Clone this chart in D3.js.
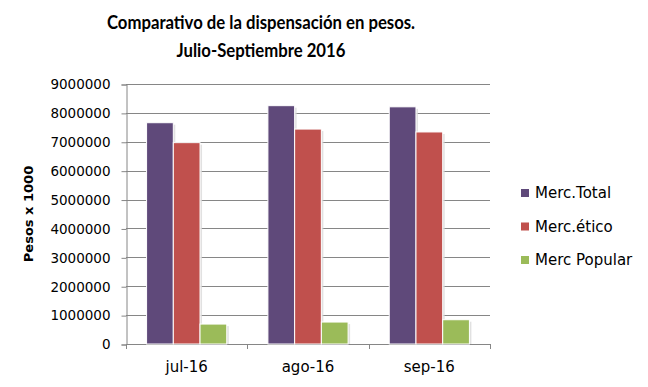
<!DOCTYPE html>
<html>
<head>
<meta charset="utf-8">
<script src="https://cdn.jsdelivr.net/npm/d3@7"></script>
<style>
  body { margin: 0; background: #fff; }
  svg { display: block; }
</style>
</head>
<body>
<svg id="chart" width="648" height="387"></svg>
<script>
// data
var months = ["jul-16", "ago-16", "sep-16"];
var seriesNames = ["Merc.Total", "Merc.ético", "Merc Popular"];
var mercTotal = [7660000, 8250000, 8210000];
var mercEtico = [6970000, 7440000, 7340000];
var mercPopular = [690000, 760000, 840000];
var yTicks = [0, 1000000, 2000000, 3000000, 4000000, 5000000, 6000000, 7000000, 8000000, 9000000];
var colors = ["#5F497A", "#C0504D", "#9BBB59"];

var svg = d3.select("#chart");
var plotLeft = 126, plotRight = 490, plotTop = 84, plotBottom = 344;
var gridColor = "#868686";

var rows = months.map(function(m, i) {
    return { month: m, values: [mercTotal[i], mercEtico[i], mercPopular[i]] };
});

var x0 = d3.scaleBand().domain(months).range([plotLeft, plotRight]).padding(0);
var x1 = d3.scaleBand().domain(seriesNames).range([0, x0.bandwidth()]).paddingInner(0).paddingOuter(0.77);
var y = d3.scaleLinear().domain([0, 9000000]).range([plotBottom, plotTop]);

//Title, squeezed a little sideways to get the narrow bold look
var title = svg.append("text")
    .attr("transform", "translate(261,0) scale(0.88,1)")
    .attr("text-anchor", "middle")
    .style("font-family", "Lato, sans-serif")
    .style("font-weight", "bold")
    .style("font-size", "19px")
    .attr("fill", "#000");
title.append("tspan").attr("x", 0).attr("y", 29).text("Comparativo de la dispensación en pesos.");
title.append("tspan").attr("x", 0).attr("y", 57).text("Julio-Septiembre 2016");

//Gridlines
svg.append("g")
    .selectAll("line")
    .data(yTicks.filter(function(d) { return d > 0; }))
    .enter()
    .append("line")
    .attr("x1", plotLeft).attr("x2", plotRight)
    .attr("y1", function(d) { return Math.round(y(d)) + 0.5; })
    .attr("y2", function(d) { return Math.round(y(d)) + 0.5; })
    .attr("stroke", gridColor)
    .attr("stroke-width", 1);

//Y axis
var yAxis = svg.append("g")
    .attr("transform", "translate(" + (plotLeft + 0.5) + ",0.5)")
    .call(d3.axisLeft(y).tickValues(yTicks).tickFormat(d3.format("d")).tickSize(5).tickPadding(11));
yAxis.select(".domain").attr("stroke", gridColor);
yAxis.selectAll(".tick line").attr("stroke", gridColor);
yAxis.selectAll(".tick text")
    .style("font-family", "'DejaVu Sans', sans-serif")
    .style("font-size", "13.5px")
    .attr("fill", "#000");

//X axis
var xAxis = svg.append("g")
    .attr("transform", "translate(0," + (plotBottom + 0.5) + ")")
    .call(d3.axisBottom(x0).tickSize(0).tickPadding(17));
xAxis.select(".domain").attr("stroke", gridColor).attr("d", "M" + plotLeft + ",0H" + plotRight);
xAxis.selectAll(".tick text")
    .style("font-family", "'DejaVu Sans', sans-serif")
    .style("font-size", "15px")
    .attr("fill", "#000");

//Category separator ticks
var sepTicks = [plotLeft].concat(months.map(function(m) { return x0(m) + x0.bandwidth(); }));
svg.append("g")
    .selectAll("line")
    .data(sepTicks)
    .enter()
    .append("line")
    .attr("x1", function(d) { return Math.round(d) + 0.5; })
    .attr("x2", function(d) { return Math.round(d) + 0.5; })
    .attr("y1", plotBottom).attr("y2", plotBottom + 5)
    .attr("stroke", gridColor);

//Bars
var groups = svg.append("g")
    .selectAll("g")
    .data(rows)
    .enter()
    .append("g")
    .attr("transform", function(d) { return "translate(" + x0(d.month) + ",0)"; });

//soft shadow behind each bar
groups.selectAll("rect.shadow")
    .data(function(d) { return d.values; })
    .enter()
    .append("rect")
    .attr("class", "shadow")
    .attr("x", function(d, i) { return x1(seriesNames[i]) + 2; })
    .attr("y", function(d) { return y(d) + 2; })
    .attr("width", x1.bandwidth())
    .attr("height", function(d) { return plotBottom - y(d) - 2; })
    .attr("fill", "#d9d9d9")
    .attr("opacity", 0.8);

groups.selectAll("rect.bar")
    .data(function(d) { return d.values; })
    .enter()
    .append("rect")
    .attr("class", "bar")
    .attr("x", function(d, i) { return x1(seriesNames[i]); })
    .attr("y", function(d) { return y(d); })
    .attr("width", x1.bandwidth())
    .attr("height", function(d) { return plotBottom - y(d); })
    .attr("fill", function(d, i) { return colors[i]; })
    .attr("stroke", "#fff")
    .attr("stroke-width", 1);

//Y axis title
svg.append("text")
    .attr("transform", "translate(33,214) rotate(-90)")
    .attr("text-anchor", "middle")
    .style("font-family", "'DejaVu Sans', sans-serif")
    .style("font-weight", "bold")
    .style("font-size", "13px")
    .text("Pesos x 1000");

//Legend
var legend = svg.append("g")
    .selectAll("g")
    .data(seriesNames)
    .enter()
    .append("g")
    .attr("transform", function(d, i) { return "translate(521," + (193 + i * 33.5) + ")"; });
legend.append("rect")
    .attr("x", 0).attr("y", -4)
    .attr("width", 8).attr("height", 8)
    .attr("fill", function(d, i) { return colors[i]; });
legend.append("text")
    .attr("x", 14)
    .attr("dy", "0.36em")
    .style("font-family", "'DejaVu Sans', sans-serif")
    .style("font-size", "15px")
    .text(function(d) { return d; });
</script>
</body>
</html>
